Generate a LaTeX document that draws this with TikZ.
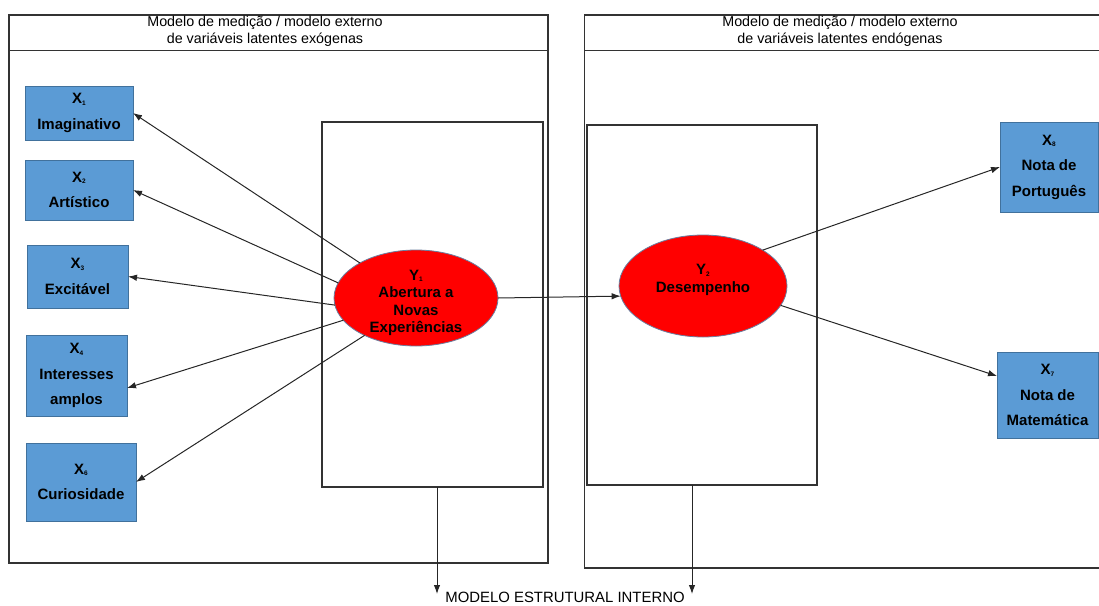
\documentclass[tikz,border=0pt]{standalone}
\usepackage{fontspec}
\setmainfont{Liberation Sans}
\usetikzlibrary{shapes.geometric,arrows.meta}
\definecolor{boxblue}{HTML}{5B9BD5}
\definecolor{boxedge}{HTML}{41719C}
\definecolor{ovaledge}{HTML}{6A7FA0}
\definecolor{frameline}{HTML}{333333}
% variable name with a small subscript index
\newcommand{\idx}[2]{#1\raisebox{-1.5pt}{\fontsize{6.5}{7}\selectfont #2}}
\begin{document}
\begin{tikzpicture}[x=1pt,y=-1pt,
  frame/.style={draw=frameline, line width=1.1pt, inner sep=0pt, outer sep=0pt},
  obs/.style={draw=boxedge, fill=boxblue, line width=0.8pt, inner sep=0pt, outer sep=0pt,
    align=center, font=\fontsize{15}{25.5}\selectfont\bfseries},
  lat/.style={ellipse, draw=ovaledge, fill=red, line width=0.8pt, inner sep=0pt, outer sep=0pt},
  lattext/.style={align=center, font=\fontsize{15}{17.5}\selectfont\bfseries, inner sep=0pt},
  head/.style={align=center, font=\fontsize{14.3}{17.5}\selectfont, inner sep=0pt},
  arr/.style={draw=black!85, line width=1pt, -{Latex[length=9pt,width=6.5pt]}}
]
\useasboundingbox (0,0) rectangle (1099,605);
\clip (0,0) rectangle (1099,605);

% outer measurement-model frames with their header bands
\node[frame, minimum width=539pt, minimum height=548pt] (exo) at (278.5,289) {};
\node[frame, minimum width=525pt, minimum height=553pt] (endo) at (847,291.5) {};
\draw[frameline, line width=1.1pt] (exo.west |- 0,50.5) -- (exo.east |- 0,50.5);
\draw[frameline, line width=1.1pt] (endo.west |- 0,50.5) -- (endo.east |- 0,50.5);
\node[head] (hexo) at (265,31.5) {Modelo de medição / modelo externo\\de variáveis latentes exógenas};
\node[head] (hendo) at (840,31.5) {Modelo de medição / modelo externo\\de variáveis latentes endógenas};

% inner structural-model frames
\node[frame, minimum width=221pt, minimum height=365pt] (inexo) at (432.5,304.5) {};
\node[frame, minimum width=230pt, minimum height=360pt] (inendo) at (702,305) {};

% pointers to the structural model caption
\coordinate (d1) at (437,594);
\coordinate (d2) at (692,594);
\draw[arr] (inexo.south -| d1) -- (d1);
\draw[arr] (inendo.south -| d2) -- (d2);
\node[anchor=base, font=\fontsize{14.9}{16}\selectfont, inner sep=0pt] (smi) at (565,602.5) {MODELO ESTRUTURAL INTERNO};

% indicators
\node[obs, minimum width=108pt, minimum height=54pt] (x1) at (79,113) {\idx{X}{1}\\Imaginativo};
\node[obs, minimum width=108pt, minimum height=60pt] (x2) at (79,190) {\idx{X}{2}\\Artístico};
\node[obs, minimum width=101pt, minimum height=63pt] (x3) at (77.5,276.5) {\idx{X}{3}\\Excitável};
\node[obs, minimum width=101pt, minimum height=81pt] (x4) at (76.5,375.5) {\idx{X}{4}\\Interesses\\amplos};
\node[obs, minimum width=110pt, minimum height=78pt] (x6) at (81,482) {\idx{X}{6}\\Curiosidade};
\node[obs, minimum width=98pt, minimum height=90pt] (x8) at (1049,167) {\idx{X}{8}\\Nota de\\Português};
\node[obs, minimum width=101pt, minimum height=86pt] (x7) at (1047.5,395) {\idx{X}{7}\\Nota de\\Matemática};

% latent variables
\node[lat, minimum width=164pt, minimum height=96pt] (y1) at (416,298) {};
\node[lattext] (ty1) at (416,303) {\idx{Y}{1}\\Abertura a\\Novas\\Experiências};
\node[lat, minimum width=168pt, minimum height=102pt] (y2) at (703,286) {};
\node[lattext] (ty2) at (703,280) {\idx{Y}{2}\\Desempenho};

% loadings and path
\draw[arr] (y1.148) -- (x1.east);
\draw[arr] (y1.169) -- (x2.east);
\draw[arr] (y1.185) -- (x3.east);
\draw[arr] (y1.197) -- ([yshift=-12.5pt]x4.east);
\draw[arr] (y1.216) -- (x6.east);
\draw[arr] (y1.east) -- (y2.187);
\draw[arr] (y2.31) -- (x8.west);
\draw[arr] (y2.346) -- ([yshift=19pt]x7.west);
\end{tikzpicture}
\end{document}
